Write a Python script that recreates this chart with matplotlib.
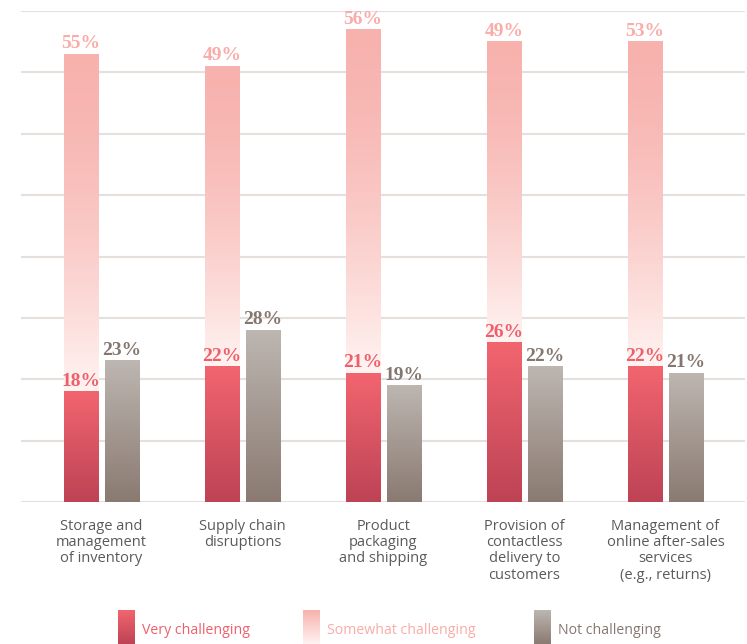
import numpy as np
import matplotlib.pyplot as plt
from matplotlib.colors import to_rgb

categories = [
    "Storage and\nmanagement\nof inventory",
    "Supply chain\ndisruptions",
    "Product\npackaging\nand shipping",
    "Provision of\ncontactless\ndelivery to\ncustomers",
    "Management of\nonline after-sales\nservices\n(e.g., returns)",
]
very = [18, 22, 21, 26, 22]
somewhat = [55, 49, 56, 49, 53]
not_ch = [23, 28, 19, 22, 21]
series_names = ["Very challenging", "Somewhat challenging", "Not challenging"]

RED_TOP, RED_BOT = "#f2656f", "#bd4355"
PINK_TOP, PINK_BOT = "#f7b2ae", "#fff4f2"
GRAY_TOP, GRAY_BOT = "#bdb6b1", "#8a7a71"
RED_TXT, PINK_TXT, GRAY_TXT = "#ef5f6b", "#f9aca8", "#857770"


def grad_img(top, bottom, n=256, power=1.0):
    t = np.linspace(0, 1, n) ** power
    a, b = np.array(to_rgb(top)), np.array(to_rgb(bottom))
    return (a[None, :] * (1 - t[:, None]) + b[None, :] * t[:, None])[:, None, :]


def fill_gradient(ax, bars, top, bottom, power=1.0):
    img = grad_img(top, bottom, power=power)
    for b in bars:
        x0, y0 = b.get_x(), b.get_y()
        w, h = b.get_width(), b.get_height()
        ax.imshow(img, extent=(x0, x0 + w, y0, y0 + h), aspect="auto",
                  interpolation="bicubic", zorder=b.get_zorder(), origin="upper")
        b.set_alpha(0)


fig = plt.figure(figsize=(7.47, 6.44), dpi=100)
ax = fig.add_axes([21 / 747, 1 - 502 / 644, (745 - 21) / 747, (502 - 11) / 644])

x = np.arange(len(categories))
off, w = 0.145, 0.245

b_very = ax.bar(x - off, very, w, color=RED_TOP, zorder=3)
b_some = ax.bar(x - off, somewhat, w, bottom=very, color=PINK_TOP, zorder=2)
b_not = ax.bar(x + off, not_ch, w, color=GRAY_TOP, zorder=3)
fill_gradient(ax, b_very, RED_TOP, RED_BOT)
fill_gradient(ax, b_some, PINK_TOP, PINK_BOT, power=1.6)
fill_gradient(ax, b_not, GRAY_TOP, GRAY_BOT)

lab = dict(ha="center", va="bottom", fontsize=14, fontweight="bold",
           family="Liberation Serif", zorder=5)
for i in range(len(categories)):
    ax.text(x[i] - off, very[i] + 0.3, f"{very[i]}%", color=RED_TXT, **lab)
    ax.text(x[i] - off, very[i] + somewhat[i] + 0.3, f"{somewhat[i]}%", color=PINK_TXT, **lab)
    ax.text(x[i] + off, not_ch[i] + 0.3, f"{not_ch[i]}%", color=GRAY_TXT, **lab)

ax.set_xlim(-0.571, 4.564)
ax.set_ylim(0, 80)
ax.set_yticks(np.arange(0, 81, 10))
ax.yaxis.grid(True, color="#e6e0dc", linewidth=1.5)
ax.set_axisbelow(True)
ax.tick_params(left=False, labelleft=False, bottom=False, labelbottom=False)
for s in ax.spines.values():
    s.set_visible(False)

for i, c in enumerate(categories):
    ax.text(x[i], -2.7, c, ha="center", va="top", fontsize=10.5, color="#5a5a5a",
            family="Open Sans", linespacing=1.12)

# legend
legend_items = [
    (118, RED_TOP, RED_BOT, RED_TXT),
    (303, PINK_TOP, "#fff3f1", PINK_TXT),
    (534, GRAY_TOP, GRAY_BOT, GRAY_TXT),
]
for (px, top, bot, tc), name in zip(legend_items, series_names):
    lax = fig.add_axes([px / 747, 0, 17 / 747, 34 / 644])
    lax.imshow(grad_img(top, bot), aspect="auto", extent=(0, 1, 0, 1))
    lax.axis("off")
    fig.text((px + 24) / 747, 1 - 630 / 644, name, color=tc, fontsize=10.2,
             family="Open Sans", va="center", ha="left")

fig.savefig("out.png", dpi=100)
